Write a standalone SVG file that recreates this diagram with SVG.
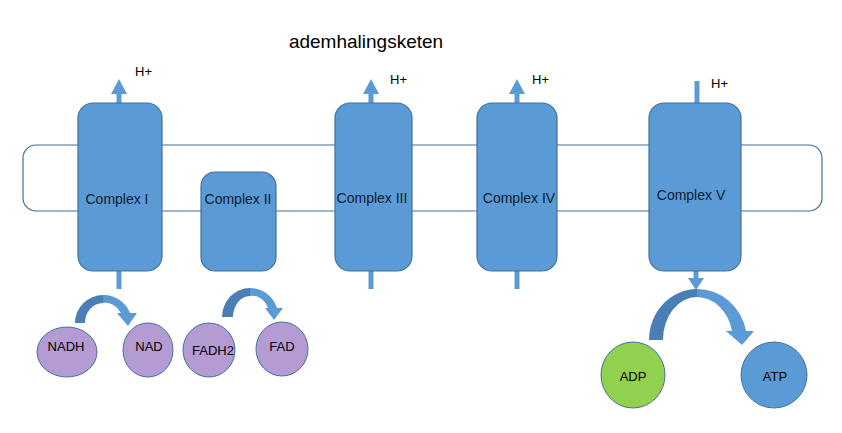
<svg xmlns="http://www.w3.org/2000/svg" width="842" height="433" viewBox="0 0 842 433">
<style>
.cx{fill:#5b9bd5;stroke:#41719c;stroke-width:1.2}
.mem{fill:#ffffff;stroke:#41719c;stroke-width:1.2}
.pur{fill:#b59bd3;stroke:#41719c;stroke-width:1}
.t{font-family:"Liberation Sans",Arial,sans-serif;fill:#000;text-anchor:middle}
.lbl{font-size:14px;fill:#0b1a2e}
.h{font-size:13px;text-anchor:start}
.shaft{stroke:#5b9bd5;stroke-width:5;fill:none}
.head{fill:#5b9bd5}
.dark{fill:#4a7fb5}
.light{fill:#5b9bd5}
</style>
<rect width="842" height="433" fill="#ffffff"/>
<text class="t" x="366" y="48" font-size="19">ademhalingsketen</text>
<g id="membrane"><rect class="mem" x="23" y="145" width="799" height="66" rx="13"/></g>
<g id="connectors">
  <line class="shaft" x1="119" y1="103" x2="119" y2="93"/>
  <polygon class="head" points="111,94 127,94 119,79"/>
  <line class="shaft" x1="119" y1="271" x2="119" y2="289"/>
  <line class="shaft" x1="371" y1="103" x2="371" y2="93"/>
  <polygon class="head" points="363,94 379,94 371,79"/>
  <line class="shaft" x1="371" y1="271" x2="371" y2="289"/>
  <line class="shaft" x1="517" y1="103" x2="517" y2="93"/>
  <polygon class="head" points="509,94 525,94 517,79"/>
  <line class="shaft" x1="517" y1="271" x2="517" y2="289"/>
  <line class="shaft" x1="697" y1="81" x2="697" y2="103"/>
  <line class="shaft" x1="696" y1="271" x2="696" y2="279"/>
  <polygon class="head" points="688,278 704,278 696,290"/>
  <path class="dark" d="M75,323 A28,28 0 0 1 103,295 L103,303 A18,20 0 0 0 85,323 Z"/>
  <path class="light" d="M103,295 A28,28 0 0 1 130,313 L137,313 L128,326 L117,313 L121,313 A18,20 0 0 0 103,303 Z"/>
  <path class="dark" d="M222,317 A28,29 0 0 1 250,288 L250,296 A17,21 0 0 0 233,317 Z"/>
  <path class="light" d="M250,288 A28,29 0 0 1 277,308 L283,308 L274,320 L265,308 L268,308 A17,21 0 0 0 250,296 Z"/>
  <path class="dark" d="M649,340 A48,51 0 0 1 697,289 L697,297 A34,43 0 0 0 663,340 Z"/>
  <path class="light" d="M697,289 A50,51 0 0 1 746,331 L754,331 L742,345 L726,331 L732,331 A36,43 0 0 0 697,297 Z"/>
</g>
<g id="complex1"><rect class="cx" x="78" y="103" width="84" height="168" rx="15"/><text class="t lbl" x="117" y="204">Complex I</text><text class="t h" x="135" y="76">H+</text></g>
<g id="complex2"><rect class="cx" x="201" y="172" width="75" height="99" rx="14"/><text class="t lbl" x="238" y="204">Complex II</text></g>
<g id="complex3"><rect class="cx" x="335" y="103" width="77" height="168" rx="15"/><text class="t lbl" x="372" y="203">Complex III</text><text class="t h" x="390" y="84">H+</text></g>
<g id="complex4"><rect class="cx" x="477" y="103" width="80" height="168" rx="15"/><text class="t lbl" x="519" y="203">Complex IV</text><text class="t h" x="532" y="84">H+</text></g>
<g id="complex5"><rect class="cx" x="649" y="103" width="92" height="168" rx="15"/><text class="t lbl" x="691" y="200">Complex V</text><text class="t h" x="711" y="88">H+</text></g>
<g id="nadh"><ellipse class="pur" cx="67" cy="352" rx="30" ry="25"/><text class="t" font-size="13" x="66" y="351">NADH</text></g>
<g id="nad"><ellipse class="pur" cx="148" cy="350" rx="25" ry="27"/><text class="t" font-size="13" x="149" y="351">NAD</text></g>
<g id="fadh2"><ellipse class="pur" cx="209" cy="350" rx="26" ry="27"/><text class="t" font-size="13" x="213" y="355">FADH2</text></g>
<g id="fad"><ellipse class="pur" cx="282" cy="349" rx="26" ry="27"/><text class="t" font-size="13" x="282" y="351">FAD</text></g>
<g id="adp"><ellipse cx="633" cy="375" rx="32" ry="33" fill="#92d050" stroke="#41719c"/><text class="t" font-size="13" x="633" y="381">ADP</text></g>
<g id="atp"><ellipse cx="774" cy="375" rx="33" ry="33" fill="#5b9bd5" stroke="#41719c"/><text class="t" font-size="13" x="775" y="381">ATP</text></g>
</svg>
